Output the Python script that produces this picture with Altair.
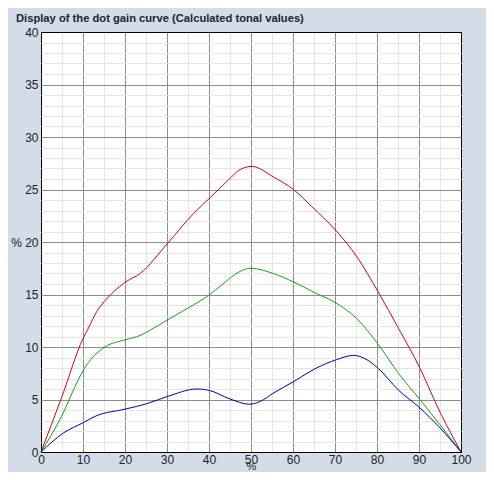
import altair as alt
import pandas as pd

# Tone value (%) and dot gain (%)
red_x = [0, 5, 10, 11.3, 13.3, 14.4, 20.2, 23.6, 30.2, 36.3, 40.2, 44.6, 47.4, 50.2,
         55.3, 60.1, 64.4, 70.2, 75.2, 80.2, 85.1, 90.2, 95, 100]
red_y = [0, 5.3, 10.8, 11.8, 13.4, 14.0, 16.2, 17.0, 19.9, 22.7, 24.2, 25.9, 26.9, 27.2,
         26.2, 25.0, 23.4, 21.1, 18.6, 15.3, 11.8, 8.0, 3.8, 0]

green_x = [0, 4.9, 8.9, 10.1, 12.5, 15.2, 20.2, 23.6, 26, 30.2, 37.1, 40.2, 43, 47.4, 50,
           55.3, 60.1, 65.6, 70.2, 75.2, 80.2, 85.1, 90.2, 95, 100]
green_y = [0, 3.4, 6.9, 7.8, 9.1, 10.0, 10.7, 11.1, 11.6, 12.6, 14.2, 15.0, 15.9, 17.2, 17.5,
           17.0, 16.2, 15.1, 14.2, 12.7, 10.3, 7.5, 5.0, 2.6, 0]

blue_x = [0, 5.3, 10.1, 12.9, 20.2, 25.2, 30.2, 37.1, 40.2, 45, 49.6, 52.1, 55.3, 60.1,
          65.6, 70.4, 74.4, 77.1, 80.2, 85.1, 90.2, 95, 100]
blue_y = [0, 1.8, 2.8, 3.4, 4.1, 4.6, 5.3, 6.0, 5.85, 5.05, 4.55, 4.8, 5.6, 6.7,
          8.0, 8.8, 9.2, 8.9, 8.0, 5.9, 4.2, 2.3, 0]

series_names = ["red", "green", "blue"]
series_colors = ["#CC0022", "#14A014", "#0000AA"]

x_ticks = list(range(0, 101, 5))
y_ticks = list(range(0, 41))

rows = []
for name, xs, ys in zip(series_names, [red_x, green_x, blue_x], [red_y, green_y, blue_y]):
    for a, b in zip(xs, ys):
        rows.append({"series": name, "x": a, "y": b})
df = pd.DataFrame(rows)

x_grid = {
    "condition": [
        {"test": "datum.value === 0 || datum.value === 100", "value": "#000000"},
        {"test": "datum.value % 10 === 0", "value": "#8c8c8c"},
    ],
    "value": "#e4e4e4",
}
y_grid = {
    "condition": [
        {"test": "datum.value === 0 || datum.value === 40", "value": "#000000"},
        {"test": "datum.value % 5 === 0", "value": "#8c8c8c"},
    ],
    "value": "#e4e4e4",
}

chart = alt.Chart(df).mark_line(strokeWidth=1, interpolate="monotone").encode(
    x=alt.X(
        "x:Q",
        scale=alt.Scale(domain=[0, 100], nice=False),
        axis=alt.Axis(
            title="%",
            values=x_ticks,
            labelExpr="datum.value % 10 === 0 ? datum.label : ''",
            grid=True,
            gridColor=x_grid,
            gridWidth=1,
            ticks=False,
            tickSize=0,
            domain=False,
            labelPadding=2,
            labelFontSize=12,
            labelFont="Liberation Sans",
            labelColor="#222222",
            labelFlush=False,
            labelOverlap=False,
            titleFont="Liberation Sans",
            titleFontSize=11,
            titleFontWeight="normal",
            titleColor="#222222",
            titleBaseline="bottom",
            titleY=19,
        ),
    ),
    y=alt.Y(
        "y:Q",
        scale=alt.Scale(domain=[0, 40], nice=False),
        axis=alt.Axis(
            title="%",
            values=y_ticks,
            labelExpr="datum.value % 5 === 0 ? datum.label : ''",
            grid=True,
            gridColor=y_grid,
            gridWidth=1,
            ticks=False,
            tickSize=0,
            domain=False,
            labelPadding=3,
            labelFontSize=12,
            labelFont="Liberation Sans",
            labelColor="#222222",
            labelFlush=False,
            labelOverlap=False,
            titleFont="Liberation Sans",
            titleFontSize=12,
            titleFontWeight="normal",
            titleColor="#222222",
            titleAngle=0,
            titleAlign="center",
            titleBaseline="middle",
            titleX=-25,
            titleY=210,
        ),
    ),
    color=alt.Color(
        "series:N",
        scale=alt.Scale(domain=series_names, range=series_colors),
        legend=None,
    ),
    detail="series:N",
).properties(
    width=420,
    height=420,
    title=alt.TitleParams(
        "Display of the dot gain curve (Calculated tonal values)",
        anchor="start",
        frame="group",
        dx=-25,
        offset=2,
        font="Liberation Sans",
        fontSize=11.2,
        fontWeight="bold",
        color="#1a2433",
    ),
    autosize=alt.AutoSizeParams(type="none"),
    padding={"left": 33, "top": 24, "right": 25, "bottom": 20},
    background="#D3DDEA",
).configure_view(
    stroke="#000000",
    strokeWidth=1,
    fill="#FFFFFF",
)

chart.save("out.html", embed_options={"renderer": "svg", "actions": False})
